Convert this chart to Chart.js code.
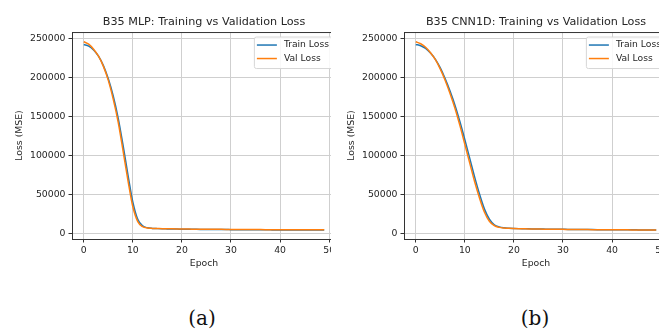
<!DOCTYPE html>
<html>
<head>
<meta charset="utf-8">
<script src="https://cdn.jsdelivr.net/npm/chart.js@4.4.1/dist/chart.umd.min.js"></script>
<style>
  html, body { margin: 0; padding: 0; background: #fff; overflow: hidden; }
  body { width: 659px; height: 331px; position: relative; }
  .panel { position: absolute; top: 0; height: 272px; overflow: hidden; }
  .cap { position: absolute; top: 306px; width: 60px; text-align: center;
         font-family: "DejaVu Serif", serif; font-size: 20px; color: #111; }
</style>
</head>
<body>
<div class="panel" style="left:0; width:331px;"><canvas id="mlp" width="345" height="272"></canvas></div>
<div class="panel" style="left:332px; width:327px;"><canvas id="cnn" width="345" height="272"></canvas></div>
<div class="cap" style="left:172px;">(a)</div>
<div class="cap" style="left:505px;">(b)</div>

<script>
var epochs = []
for (var i = 0; i < 50; i++) epochs.push(i)

var seriesNames = ["Train Loss", "Val Loss"]
var seriesColors = ["#1f77b4", "#ff7f0e"]

var xTicks = [0, 10, 20, 30, 40, 50]
var yTicks = [0, 50000, 100000, 150000, 200000, 250000]

// MLP curves
var mlpTrain = [242000, 240000, 235000, 227000, 215000, 198000, 176000, 148000, 113000, 75000,
  40000, 18000, 9500, 7000, 6300, 6000, 5800, 5650, 5500, 5400,
  5300, 5200, 5150, 5050, 5000, 4950, 4900, 4850, 4800, 4750,
  4700, 4650, 4600, 4550, 4500, 4480, 4450, 4420, 4400, 4380,
  4350, 4320, 4300, 4280, 4250, 4230, 4200, 4180, 4150, 4130]
var mlpVal = [245500, 242500, 236000, 227000, 214000, 196000, 172000, 143000, 106000, 68000,
  34000, 15000, 8500, 6800, 6300, 6100, 5900, 5800, 5700, 5600,
  5500, 5450, 5350, 5300, 5250, 5200, 5150, 5100, 5050, 5000,
  4950, 4900, 4850, 4800, 4780, 4750, 4720, 4700, 4680, 4650,
  4620, 4600, 4580, 4550, 4530, 4500, 4480, 4460, 4440, 4420]

// CNN1D curves
var cnnTrain = [242000, 240500, 237000, 231000, 223000, 212000, 198000, 182000, 164000, 143000,
  120000, 96000, 72000, 50000, 31000, 18000, 11000, 8200, 7000, 6500,
  6200, 6000, 5850, 5700, 5600, 5500, 5400, 5300, 5200, 5150,
  5100, 5000, 4950, 4900, 4850, 4800, 4750, 4700, 4650, 4600,
  4570, 4530, 4500, 4470, 4440, 4400, 4380, 4350, 4320, 4300]
var cnnVal = [245500, 243000, 238500, 231500, 222500, 210500, 196000, 179000, 160000, 138000,
  114000, 90000, 66000, 45000, 27000, 15500, 9800, 7600, 6800, 6400,
  6150, 5950, 5800, 5650, 5550, 5450, 5350, 5250, 5150, 5100,
  5050, 4950, 4900, 4850, 4800, 4750, 4700, 4650, 4600, 4550,
  4520, 4480, 4450, 4420, 4390, 4350, 4330, 4300, 4280, 4250]

Chart.defaults.font.family = "'DejaVu Sans', sans-serif"
Chart.defaults.font.size = 9.3
Chart.defaults.color = "#262626"

function toPoints(vals) {
  return vals.map(function(v, i) { return {x: epochs[i], y: v} })
}

// spines on top/right + matplotlib style legend box
var mplBits = {
  id: 'mplBits',
  afterDatasetsDraw: function(chart) {
    var c = chart.ctx, a = chart.chartArea
    c.save()
    c.strokeStyle = "#333"
    c.lineWidth = 1
    c.beginPath()
    c.moveTo(a.left, a.top + 0.5); c.lineTo(a.right, a.top + 0.5)
    c.moveTo(a.right - 0.5, a.top); c.lineTo(a.right - 0.5, a.bottom)
    c.stroke()

    c.font = "9.2px 'DejaVu Sans'"
    var tw = 0
    seriesNames.forEach(function(n) { tw = Math.max(tw, c.measureText(n).width) })
    var w = 3 + 20 + 7 + tw + 4, h = 31.5
    var x0 = a.right - 3 - w, y0 = a.top + 4.5
    c.fillStyle = "rgba(255,255,255,0.85)"
    c.strokeStyle = "#d6d6d6"
    c.beginPath()
    c.roundRect(x0 + 0.5, y0 + 0.5, w, h, 2)
    c.fill(); c.stroke()
    c.textBaseline = "middle"
    seriesNames.forEach(function(n, k) {
      var yy = y0 + 8.5 + k * 13.5
      c.strokeStyle = seriesColors[k]
      c.lineWidth = 1.5
      c.beginPath(); c.moveTo(x0 + 3, yy); c.lineTo(x0 + 23, yy); c.stroke()
      c.fillStyle = "#262626"
      c.fillText(n, x0 + 30, yy)
    })
    c.restore()
  }
}

function makeChart(id, title, train, val) {
  return new Chart(document.getElementById(id), {
    type: 'line',
    data: {
      datasets: [
        {label: seriesNames[0], data: toPoints(train), borderColor: seriesColors[0], borderWidth: 1.5,
         pointRadius: 0, cubicInterpolationMode: 'monotone', order: 1},
        {label: seriesNames[1], data: toPoints(val), borderColor: seriesColors[1], borderWidth: 1.5,
         pointRadius: 0, cubicInterpolationMode: 'monotone', order: 0}
      ]
    },
    options: {
      responsive: false,
      animation: false,
      devicePixelRatio: 1,
      layout: {padding: {top: 0, left: 0, right: 9, bottom: 0}},
      plugins: {
        legend: {display: false},
        tooltip: {enabled: false},
        title: {display: true, text: title, fullSize: false, color: "#262626",
                font: {size: 11.2, weight: 'normal'}, padding: {top: 15.3, bottom: 3.3}}
      },
      scales: {
        x: {
          type: 'linear', min: -2.4, max: 51.4,
          afterBuildTicks: function(s) { s.ticks = xTicks.map(function(v) { return {value: v} }) },
          afterFit: function(s) { s.height = 33 },
          grid: {color: "#cfcfcf", lineWidth: 1, tickLength: 3.5, tickColor: "#333"},
          border: {display: true, color: "#333", width: 1},
          ticks: {padding: 2.5, maxRotation: 0},
          title: {display: true, text: "Epoch", padding: {top: 0, bottom: 2.6}}
        },
        y: {
          min: -7300, max: 258000,
          afterBuildTicks: function(s) { s.ticks = yTicks.map(function(v) { return {value: v} }) },
          afterFit: function(s) { s.width = 72 },
          grid: {color: "#cfcfcf", lineWidth: 1, tickLength: 3.5, tickColor: "#333"},
          border: {display: true, color: "#333", width: 1},
          ticks: {padding: 3, callback: function(v) { return String(v) }},
          title: {display: true, text: "Loss (MSE)", padding: {top: 14.2, bottom: 0}}
        }
      }
    },
    plugins: [mplBits]
  })
}

var mlpChart = makeChart("mlp", "B35 MLP: Training vs Validation Loss", mlpTrain, mlpVal)
var cnnChart = makeChart("cnn", "B35 CNN1D: Training vs Validation Loss", cnnTrain, cnnVal)
</script>
</body>
</html>
